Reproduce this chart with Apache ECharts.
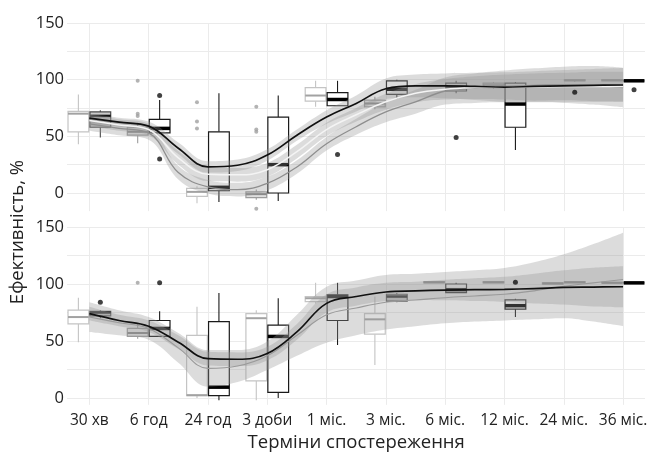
<!DOCTYPE html>
<html>
<head>
<meta charset="utf-8">
<script src="https://cdn.jsdelivr.net/npm/echarts@6/dist/echarts.min.js"></script>
<style>
  html, body { margin: 0; padding: 0; background: #fff; }
  #chart { width: 652px; height: 455px; }
</style>
</head>
<body>
<div id="chart"></div>
<script>
// ---- data ----
const categories = ['30 хв', '6 год', '24 год', '3 доби', '1 міс.', '3 міс.', '6 міс.', '12 міс.', '24 міс.', '36 міс.'];
const yTickLabels = [0, 50, 100, 150];

// points where the smoothed curves were read (category index, half steps)
const smoothX = [0, 0.5, 1, 1.5, 2, 2.5, 3, 3.5, 4, 4.5, 5, 5.5, 6, 6.5, 7, 7.5, 8, 8.5, 9];

// top panel: smoothers and their band half-widths
const topBlackLine = [66, 62.5, 59, 39.5, 23, 24.5, 33.5, 51, 67, 79, 92, 94.5, 94.5, 94, 93.5, 94, 94.5, 95, 95.3];
const topBlackBand = [4, 4, 4, 5, 5, 5, 5, 5, 6, 7, 9, 10, 11, 12, 13, 13.5, 14, 14.5, 15];
const topLightLine = [64, 60, 56, 31, 16.5, 16, 20.5, 36.5, 56, 69, 80.5, 88, 91.5, 93, 93.5, 93.5, 94, 94, 94];
const topLightBand = [5, 5, 5, 6, 6, 6, 6, 6, 6, 6, 7, 8, 9, 10, 11, 12, 12, 13, 13];
const topGrayLine = [61, 57, 53, 18, 5.5, 3, 8.5, 23, 43.5, 58.5, 71.5, 80.5, 90, 92.5, 94, 95, 95.5, 95, 93];
const topGrayBand = [6, 6, 6, 6, 6, 6, 6, 6, 6, 7, 9, 10.5, 12, 13, 14, 15, 16, 17, 17.5];

// bottom panel
const botBlackLine = [74, 68, 63, 49, 34.5, 34, 39, 58, 83, 89, 93, 94, 94.7, 95, 95.3, 96, 97, 97.3, 97.6];
const botBlackBand = [6, 5, 5, 6, 6, 6, 6, 7, 8, 8, 8, 8, 9, 10, 11, 13, 15, 17, 18];
const botGrayLine = [71, 66, 61, 44, 26, 28, 37, 55, 73, 79, 84, 86, 88, 89.5, 91, 94, 98, 101, 104];
const botGrayBand = [13, 11, 10, 13, 16, 14, 12.5, 18, 24.5, 24, 24, 23, 22.5, 22.5, 23, 25, 28, 34, 41];

// boxes: [min, Q1, median, Q3, max] per category, null = none
const topLeftBoxes = [
  [43, 54, 70, 72, 87], [44, 51, 54, 58, 62], [-9, -3, 1, 4, 6], [-6, -4, -1, 1, 3], [76, 81, 86, 93, 99],
  [74, 76, 79, 82, 85], null, [92, 93, 95, 97, 98], null, [99, 99, 99.5, 100, 100]
];
const topRightBoxes = [
  [49, 58, 68, 71.5, 73], [52, 53, 57, 65, 82], [-8, 2, 5, 54, 88], [-7, 0, 25, 67, 86], [77, 77, 82.5, 88.5, 99],
  [83, 87, 91.5, 99, 100], [88, 90, 93, 97, 99], [38, 58, 78.5, 97, 98], [98, 99, 99.5, 100, 100], [99, 99, 99, 99, 99]
];
const botLeftBoxes = [
  [49, 65, 71, 77, 88], [52, 54, 57, 61, 66], [0, 2, 2.5, 55, 80], [-2, 15, 70, 74, 77], [83, 84.5, 87.5, 89, 101],
  [29, 56, 69, 74, 89], [101, 101, 101.5, 102, 102], [101, 101, 101.5, 102, 102], [100, 100, 100.5, 101, 101], [101, 101, 101, 101.5, 101.5]
];
const botRightBoxes = [
  [70, 72, 75, 76, 77], [54, 54, 61, 68, 76], [-2, 2, 9.5, 67, 92], [0, 5, 54, 64, 87.5], [46.5, 68, 89, 90.5, 101],
  [84, 85, 89, 91, 92], [92, 92.5, 95, 100, 101], [71, 78, 81, 86, 87], [101, 101, 101.5, 102, 102], [101, 101, 101, 101, 101]
];

// outliers: [category index, value]
const topLeftOutliers = [[1, 99], [1, 70], [1, 68], [2, 80], [2, 63], [2, 57], [3, 76], [3, 56], [3, 54], [3, -14]];
const topRightOutliers = [[1, 86], [1, 30], [4, 34], [6, 49], [8, 89], [9, 91]];
const botLeftOutliers = [[1, 101]];
const botRightOutliers = [[0, 84], [1, 101], [7, 101.5]];

// ---- styles ----
const TONES = {
  light: { stroke: '#c4c4c4', fill: '#ffffff', median: '#a2a2a2', medianWidth: 2 },
  mid: { stroke: '#9c9c9c', fill: 'rgba(200,200,200,0.6)', median: '#8a8a8a', medianWidth: 2 },
  dark: { stroke: '#4a4a4a', fill: 'rgba(160,160,160,0.55)', median: '#111111', medianWidth: 2.5 },
  black: { stroke: '#1a1a1a', fill: '#ffffff', median: '#000000', medianWidth: 3.5 }
};
const topLeftTone = ['light', 'mid', 'light', 'mid', 'light', 'mid', null, 'mid', null, 'mid'];
const topRightTone = ['dark', 'black', 'black', 'black', 'black', 'black', 'black', 'black', 'mid', 'black'];
const botLeftTone = ['light', 'mid', 'light', 'light', 'light', 'light', 'mid', 'mid', 'mid', 'mid'];
const botRightTone = ['dark', 'black', 'black', 'black', 'black', 'dark', 'black', 'black', 'mid', 'black'];

const BOX_WIDTH = 0.35;
const SLOT = 0.185;
const SMOOTH = 0.4;
const RIBBON = 'rgba(150,150,150,0.33)';
const GRID_LINE = '#ebebeb';
const FONT = 'Open Sans';

function boxRender(offset, tones) {
  return function (params, api) {
    const cat = api.value(0);
    const t = TONES[tones[cat]];
    const x = cat + offset;
    const pMin = api.coord([x, api.value(1)]);
    const pQ1 = api.coord([x, api.value(2)]);
    const pMed = api.coord([x, api.value(3)]);
    const pQ3 = api.coord([x, api.value(4)]);
    const pMax = api.coord([x, api.value(5)]);
    const half = api.size([BOX_WIDTH, 0])[0] / 2;
    const cx = pMed[0];
    return {
      type: 'group',
      children: [
        { type: 'line', shape: { x1: cx, y1: pQ3[1], x2: cx, y2: pMax[1] }, style: { stroke: t.stroke, lineWidth: 1.1 } },
        { type: 'line', shape: { x1: cx, y1: pQ1[1], x2: cx, y2: pMin[1] }, style: { stroke: t.stroke, lineWidth: 1.1 } },
        { type: 'rect', shape: { x: cx - half, y: pQ3[1], width: half * 2, height: pQ1[1] - pQ3[1] },
          style: { fill: t.fill, stroke: t.stroke, lineWidth: 1.2 } },
        { type: 'line', shape: { x1: cx - half, y1: pMed[1], x2: cx + half, y2: pMed[1] },
          style: { stroke: t.median, lineWidth: t.medianWidth } }
      ]
    };
  };
}

function boxSeries(grid, boxes, offset, tones) {
  return {
    type: 'custom',
    xAxisIndex: grid, yAxisIndex: grid,
    renderItem: boxRender(offset, tones),
    encode: { x: 0, y: [1, 2, 3, 4, 5] },
    data: boxes.map((b, i) => (b ? [i].concat(b) : null)).filter(Boolean),
    silent: true,
    z: 2
  };
}

function outlierSeries(grid, points, offset, color, size) {
  return {
    type: 'scatter',
    xAxisIndex: grid, yAxisIndex: grid,
    data: points.map(p => [p[0] + offset, p[1]]),
    symbolSize: size,
    itemStyle: { color: color },
    clip: false,
    silent: true,
    z: 5
  };
}

function ribbonSeries(grid, name, line, band) {
  return [
    {
      type: 'line', xAxisIndex: grid, yAxisIndex: grid, stack: name, stackStrategy: 'all',
      data: line.map((v, i) => v - band[i]), smooth: SMOOTH, symbol: 'none',
      lineStyle: { opacity: 0 }, silent: true, z: 3
    },
    {
      type: 'line', xAxisIndex: grid, yAxisIndex: grid, stack: name, stackStrategy: 'all',
      data: band.map(h => h * 2), smooth: SMOOTH, symbol: 'none',
      lineStyle: { opacity: 0 }, areaStyle: { color: RIBBON, opacity: 1 }, silent: true, z: 3
    }
  ];
}

function curveSeries(grid, line, color, width) {
  return {
    type: 'line', xAxisIndex: grid, yAxisIndex: grid,
    data: line, smooth: SMOOTH, symbol: 'none',
    lineStyle: { color: color, width: width }, silent: true, z: 4
  };
}

// geometry: value grids hold boxes, band grids hold curves
const PX_PER_CAT = 59.3;
const X_MIN = -0.377, X_MAX = 9.37;
const PANEL_LEFT = 67;
const panelWidth = (X_MAX - X_MIN) * PX_PER_CAT;
const bandLeft = PANEL_LEFT - X_MIN * PX_PER_CAT;
const bandWidth = 9 * PX_PER_CAT;
const panels = [
  { top: 23, pxPerUnit: 170 / 150, bandMin: -16 },
  { top: 227, pxPerUnit: 171 / 150, bandMin: -6 }
];

const grids = [];
const xAxes = [];
const yAxes = [];
panels.forEach((p, k) => {
  grids.push({ left: PANEL_LEFT, top: p.top, width: panelWidth, height: 175 * p.pxPerUnit });
  grids.push({ left: bandLeft, top: p.top, width: bandWidth, height: (150 - p.bandMin) * p.pxPerUnit });
  xAxes.push({
    gridIndex: 2 * k, type: 'value', min: X_MIN, max: X_MAX, show: false
  });
  xAxes.push({
    gridIndex: 2 * k + 1, type: 'category', data: smoothX.map(String), boundaryGap: false,
    axisLine: { show: false }, axisTick: { show: false },
    axisLabel: {
      show: k === 1, interval: 1, margin: 8, color: '#222', fontSize: 15.5, fontFamily: FONT,
      formatter: v => categories[Number(v)] || ''
    },
    splitLine: { show: true, interval: 1, lineStyle: { color: GRID_LINE, width: 1 } },
    name: k === 1 ? 'Терміни спостереження' : '',
    nameLocation: 'middle', nameGap: 28,
    nameTextStyle: { color: '#222', fontSize: 18.5, fontFamily: FONT }
  });
  yAxes.push({
    gridIndex: 2 * k, type: 'value', min: -25, max: 150, interval: 25,
    axisLine: { show: false }, axisTick: { show: false },
    axisLabel: {
      margin: 3, color: '#222', fontSize: 16.5, fontFamily: FONT,
      formatter: v => (yTickLabels.indexOf(v) >= 0 ? String(v) : '')
    },
    splitLine: {
      show: true,
      lineStyle: { color: ['rgba(0,0,0,0)', GRID_LINE, GRID_LINE, GRID_LINE, GRID_LINE, GRID_LINE, GRID_LINE, GRID_LINE], width: 1 }
    }
  });
  yAxes.push({
    gridIndex: 2 * k + 1, type: 'value', min: p.bandMin, max: 150, show: false
  });
});

const series = [
  // top panel
  boxSeries(0, topLeftBoxes, -SLOT, topLeftTone),
  boxSeries(0, topRightBoxes, SLOT, topRightTone),
  ...ribbonSeries(1, 'tg', topGrayLine, topGrayBand),
  ...ribbonSeries(1, 'tl', topLightLine, topLightBand),
  ...ribbonSeries(1, 'tb', topBlackLine, topBlackBand),
  curveSeries(1, topGrayLine, '#8e8e8e', 1.3),
  curveSeries(1, topLightLine, '#f4f4f4', 1.5),
  curveSeries(1, topBlackLine, '#111111', 1.7),
  outlierSeries(0, topLeftOutliers, -SLOT, '#a0a0a0', 4),
  outlierSeries(0, topRightOutliers, SLOT, '#111111', 5),
  // bottom panel
  boxSeries(2, botLeftBoxes, -SLOT, botLeftTone),
  boxSeries(2, botRightBoxes, SLOT, botRightTone),
  ...ribbonSeries(3, 'bg', botGrayLine, botGrayBand),
  ...ribbonSeries(3, 'bb', botBlackLine, botBlackBand),
  curveSeries(3, botGrayLine, '#9a9a9a', 1.1),
  curveSeries(3, botBlackLine, '#111111', 1.7),
  outlierSeries(2, botLeftOutliers, -SLOT, '#a0a0a0', 4),
  outlierSeries(2, botRightOutliers, SLOT, '#111111', 5)
];

const chart = echarts.init(document.getElementById('chart'), null, { renderer: 'canvas' });
chart.setOption({
  animation: false,
  backgroundColor: '#ffffff',
  textStyle: { fontFamily: FONT },
  grid: grids,
  xAxis: xAxes,
  yAxis: yAxes,
  graphic: [{
    type: 'text', x: 18, y: 232, rotation: Math.PI / 2,
    style: {
      text: 'Ефективність, %', fill: '#222', fontSize: 18.5, fontFamily: FONT,
      textAlign: 'center', textVerticalAlign: 'middle'
    }
  }],
  series: series
});
</script>
</body>
</html>
